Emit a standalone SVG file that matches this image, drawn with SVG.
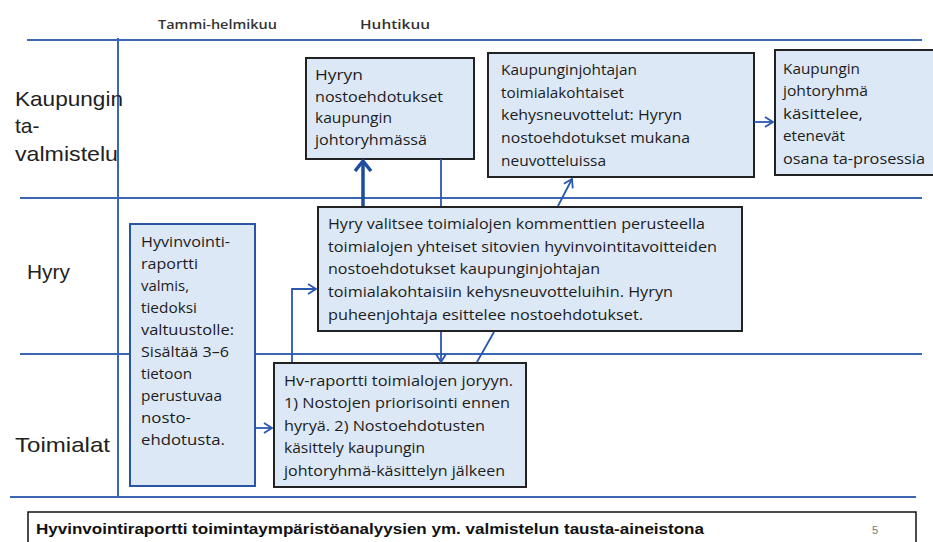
<svg xmlns="http://www.w3.org/2000/svg" width="933" height="542" viewBox="0 0 933 542">
<defs>
<style>
.lane{stroke:#3A66B4;stroke-width:2;fill:none}
.box{fill:#DCE8F6;stroke:#222;stroke-width:2}
.bbox{fill:#DCE8F6;stroke:#2A55A3;stroke-width:2}
.t{font-family:"Open Sans","Liberation Sans",sans-serif;font-size:14px;fill:#1c1c1c}
.lbl{font-family:"Liberation Sans",Arial,sans-serif;font-size:21px;fill:#222}
.hdr{font-family:"Open Sans","Liberation Sans",sans-serif;font-size:13px;font-weight:600;fill:#333}
.con{stroke:#2A58AE;stroke-width:1.8;fill:none}
.thick{stroke:#1E4C9E;stroke-width:3.5;fill:none}
</style>
<marker id="ah" markerUnits="userSpaceOnUse" markerWidth="14" markerHeight="14" refX="9" refY="6" orient="auto">
<path d="M1,1 L9,6 L1,11" fill="none" stroke="#2A58AE" stroke-width="1.8"/>
</marker>
<marker id="ahT" markerUnits="userSpaceOnUse" markerWidth="20" markerHeight="20" refX="11" refY="9" orient="auto">
<path d="M1,1 L11,9 L1,17" fill="none" stroke="#1E4C9E" stroke-width="3.5"/>
</marker>
</defs>
<rect width="933" height="542" fill="#fff"/>
<g id="headers">
<text class="hdr" x="158" y="29" textLength="119" lengthAdjust="spacingAndGlyphs">Tammi-helmikuu</text>
<text class="hdr" x="360" y="29" textLength="70" lengthAdjust="spacingAndGlyphs">Huhtikuu</text>
</g>
<g id="lanes">
<path class="lane" d="M27,40 H922"/>
<path class="lane" d="M20,198 H922"/>
<path class="lane" d="M20,354 H922"/>
<path class="lane" d="M10,497 H916"/>
<path class="lane" d="M118,38 V497"/>
<text class="lbl" x="15" y="106" textLength="108" lengthAdjust="spacingAndGlyphs">Kaupungin</text>
<text class="lbl" x="15" y="133">ta-</text>
<text class="lbl" x="15" y="161" textLength="103" lengthAdjust="spacingAndGlyphs">valmistelu</text>
<text class="lbl" x="27" y="279" textLength="43" lengthAdjust="spacingAndGlyphs">Hyry</text>
<text class="lbl" x="15" y="452" textLength="95" lengthAdjust="spacingAndGlyphs">Toimialat</text>
</g>
<g id="n1">
<rect class="box" x="306" y="58" width="168" height="101"/>
<text class="t" x="315" y="80" textLength="48" lengthAdjust="spacingAndGlyphs">Hyryn</text>
<text class="t" x="315" y="102" textLength="128" lengthAdjust="spacingAndGlyphs">nostoehdotukset</text>
<text class="t" x="315" y="123" textLength="77" lengthAdjust="spacingAndGlyphs">kaupungin</text>
<text class="t" x="315" y="145" textLength="112" lengthAdjust="spacingAndGlyphs">johtoryhmässä</text>
</g>
<g id="n2">
<rect class="box" x="488" y="53" width="266" height="124"/>
<text class="t" x="501" y="75" textLength="136" lengthAdjust="spacingAndGlyphs">Kaupunginjohtajan</text>
<text class="t" x="501" y="98" textLength="123" lengthAdjust="spacingAndGlyphs">toimialakohtaiset</text>
<text class="t" x="501" y="120" textLength="181" lengthAdjust="spacingAndGlyphs">kehysneuvottelut:  Hyryn</text>
<text class="t" x="501" y="143" textLength="189" lengthAdjust="spacingAndGlyphs">nostoehdotukset mukana</text>
<text class="t" x="501" y="166" textLength="105" lengthAdjust="spacingAndGlyphs">neuvotteluissa</text>
</g>
<g id="n3">
<rect class="box" x="775" y="50" width="164" height="125"/>
<text class="t" x="783" y="74" textLength="77" lengthAdjust="spacingAndGlyphs">Kaupungin</text>
<text class="t" x="783" y="96" textLength="85" lengthAdjust="spacingAndGlyphs">johtoryhmä</text>
<text class="t" x="783" y="119" textLength="80" lengthAdjust="spacingAndGlyphs">käsittelee,</text>
<text class="t" x="783" y="141" textLength="62" lengthAdjust="spacingAndGlyphs">etenevät</text>
<text class="t" x="783" y="164" textLength="142" lengthAdjust="spacingAndGlyphs">osana  ta-prosessia</text>
</g>
<g id="n4">
<rect class="box" x="318" y="207" width="424" height="124"/>
<text class="t" x="328" y="229" textLength="377" lengthAdjust="spacingAndGlyphs">Hyry valitsee  toimialojen  kommenttien  perusteella</text>
<text class="t" x="328" y="252" textLength="389" lengthAdjust="spacingAndGlyphs">toimialojen  yhteiset  sitovien hyvinvointitavoitteiden</text>
<text class="t" x="328" y="274" textLength="272" lengthAdjust="spacingAndGlyphs">nostoehdotukset kaupunginjohtajan</text>
<text class="t" x="328" y="297" textLength="345" lengthAdjust="spacingAndGlyphs">toimialakohtaisiin  kehysneuvotteluihin.  Hyryn</text>
<text class="t" x="328" y="320" textLength="315" lengthAdjust="spacingAndGlyphs">puheenjohtaja  esittelee  nostoehdotukset.</text>
</g>
<g id="n5">
<rect class="bbox" x="130" y="224" width="125" height="262"/>
<text class="t" x="141" y="247" textLength="89" lengthAdjust="spacingAndGlyphs">Hyvinvointi-</text>
<text class="t" x="141" y="269" textLength="57" lengthAdjust="spacingAndGlyphs">raportti</text>
<text class="t" x="141" y="291" textLength="48" lengthAdjust="spacingAndGlyphs">valmis,</text>
<text class="t" x="141" y="313" textLength="56" lengthAdjust="spacingAndGlyphs">tiedoksi</text>
<text class="t" x="141" y="335" textLength="93" lengthAdjust="spacingAndGlyphs">valtuustolle:</text>
<text class="t" x="141" y="357" textLength="88" lengthAdjust="spacingAndGlyphs">Sisältää  3–6</text>
<text class="t" x="141" y="379" textLength="51" lengthAdjust="spacingAndGlyphs">tietoon</text>
<text class="t" x="141" y="401" textLength="81" lengthAdjust="spacingAndGlyphs">perustuvaa</text>
<text class="t" x="141" y="423" textLength="50" lengthAdjust="spacingAndGlyphs">nosto-</text>
<text class="t" x="141" y="445" textLength="84" lengthAdjust="spacingAndGlyphs">ehdotusta.</text>
</g>
<g id="n6">
<rect class="box" x="274" y="363" width="252" height="124"/>
<text class="t" x="284" y="386" textLength="229" lengthAdjust="spacingAndGlyphs">Hv-raportti toimialojen  joryyn.</text>
<text class="t" x="284" y="408" textLength="226" lengthAdjust="spacingAndGlyphs">1) Nostojen priorisointi ennen</text>
<text class="t" x="284" y="431" textLength="201" lengthAdjust="spacingAndGlyphs">hyryä. 2) Nostoehdotusten</text>
<text class="t" x="284" y="453" textLength="141" lengthAdjust="spacingAndGlyphs">käsittely  kaupungin</text>
<text class="t" x="284" y="476" textLength="221" lengthAdjust="spacingAndGlyphs">johtoryhmä-käsittelyn  jälkeen</text>
</g>
<g id="connectors">
<path class="thick" d="M363,206 V161" marker-end="url(#ahT)"/>
<path class="con" d="M441,159 V206"/>
<path class="con" d="M441,332 V362" marker-end="url(#ah)"/>
<path class="con" d="M477,362 L494,332"/>
<path class="con" d="M558,206 L572,179" marker-end="url(#ah)"/>
<path class="con" d="M292,362 V289 H316" marker-end="url(#ah)"/>
<path class="con" d="M255,428 H272" marker-end="url(#ah)"/>
<path class="con" d="M754,122 H773" marker-end="url(#ah)"/>
</g>
<g id="footer">
<rect x="28" y="512" width="888" height="40" fill="#fff" stroke="#111" stroke-width="1.5"/>
<text x="36" y="534" font-family="Liberation Sans, Arial, sans-serif" font-size="15" font-weight="bold" fill="#111" textLength="668" lengthAdjust="spacingAndGlyphs">Hyvinvointiraportti toimintaympäristöanalyysien ym. valmistelun tausta-aineistona</text>
<text x="872" y="534" font-family="Liberation Sans, Arial, sans-serif" font-size="11" fill="#777">5</text>
</g>
</svg>
